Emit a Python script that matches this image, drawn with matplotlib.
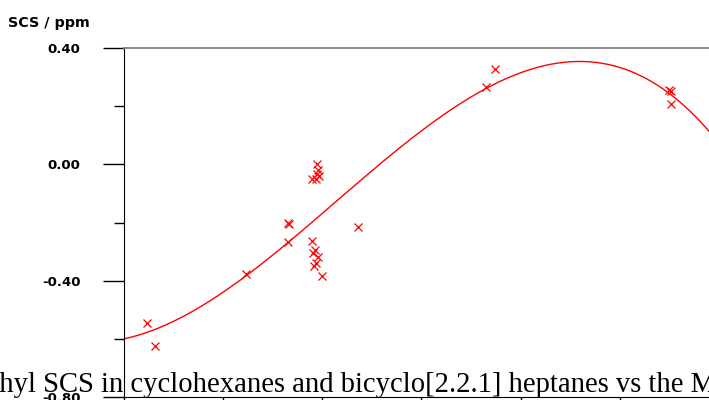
import matplotlib.pyplot as plt
import numpy as np

# methyl SCS values (x in tick-spacing units)
x_obs = [0.240, 0.317, 1.234, 1.655, 1.665, 1.660,
         1.946, 1.956, 1.946, 1.969, 1.895, 1.936,
         1.895, 1.929, 1.911, 1.962, 1.936, 1.918, 2.002,
         2.361, 3.651, 3.741, 5.498, 5.510, 5.511]
scs_obs = [-0.546, -0.624, -0.376, -0.202, -0.206, -0.268,
           0.002, -0.021, -0.032, -0.041, -0.049, -0.049,
           -0.262, -0.294, -0.306, -0.320, -0.340, -0.348, -0.383,
           -0.214, 0.266, 0.328, 0.257, 0.252, 0.206]

y_ticks = [0.40, 0.00, -0.40, -0.80]
y_minor = [0.20, -0.20, -0.60]
x_ticks = [0, 1, 2, 3, 4, 5, 6]

title_text = "Methyl SCS in cyclohexanes and bicyclo[2.2.1] heptanes vs the MMFF"

fig = plt.figure(figsize=(7.09, 4.0), dpi=100)
W, H = 709, 400
# axes run off the right edge of the picture
ax = fig.add_axes([123.5 / W, 3 / H, 99.3 * 6.6 / W, 349 / H])

ax.plot(x_obs, scs_obs, 'x', color='red', ms=5.5, mew=0.9, clip_on=False)

# cubic trend line through the observations
coef = np.polyfit(x_obs, scs_obs, 3)
xs = np.linspace(0, 6.6, 300)
ax.plot(xs, np.polyval(coef, xs), color='red', lw=1.0)

ax.set_xlim(0, 6.6)
ax.set_ylim(-0.80, 0.40)
ax.set_yticks(y_ticks)
ax.set_yticklabels([f"{v:.2f}" for v in y_ticks])
ax.set_yticks(y_minor, minor=True)
ax.set_xticks(x_ticks)
ax.tick_params(axis='y', which='major', direction='out', length=15, width=1.0,
               pad=16, labelsize=9.5)
ax.tick_params(axis='y', which='minor', direction='out', length=7.5, width=1.0)
ax.tick_params(axis='x', which='major', direction='out', length=10, width=1.0,
               labelbottom=False)
for lab in ax.get_yticklabels():
    lab.set_fontfamily('DejaVu Sans')
    lab.set_fontweight('bold')

ax.spines['top'].set_color('#808080')
ax.spines['top'].set_linewidth(1.3)
ax.spines['right'].set_visible(False)
ax.yaxis.get_major_ticks()[0].tick1line.set_color('#808080')

fig.text(8 / W, 1 - 27 / H, "SCS / ppm", fontsize=10.3, fontweight='bold',
         family='DejaVu Sans', ha='left', va='baseline')

fig.text(-47 / W, 8 / H, title_text, fontsize=20.6, family='Liberation Serif',
         ha='left', va='baseline', color='black')

fig.savefig('out.png', dpi=100)
